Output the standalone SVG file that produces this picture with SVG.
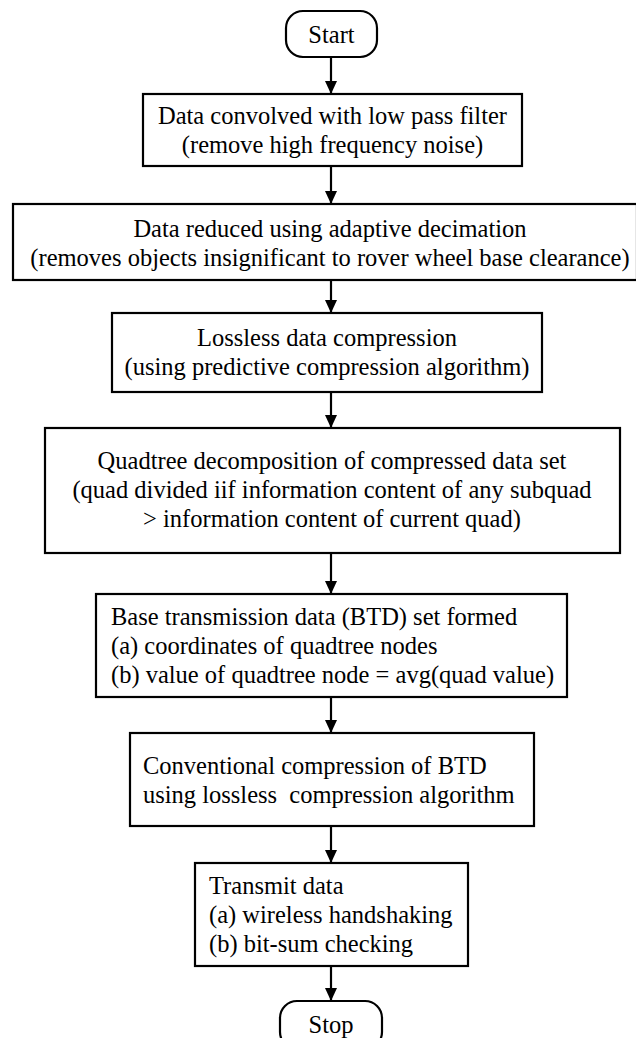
<svg xmlns="http://www.w3.org/2000/svg" width="636" height="1038" viewBox="0 0 636 1038">
  <style>
    .box { fill: #fff; stroke: #000; stroke-width: 2.2; }
    .t { font-family: "Liberation Serif", "Times New Roman", serif; font-size: 24.5px; fill: #000; }
    .c { text-anchor: middle; }
    .edge { stroke: #000; stroke-width: 2.2; fill: none; marker-end: url(#arr); }
  </style>
  <defs>
    <marker id="arr" markerWidth="12" markerHeight="13" refX="6" refY="13" orient="auto-start-reverse" markerUnits="userSpaceOnUse" viewBox="0 0 12 13">
      <path d="M0,0 L12,0 L6,13 Z" fill="#000" transform="rotate(0)"/>
    </marker>
  </defs>
  <rect width="636" height="1038" fill="#fff"/>

  <g id="connectors">
    <line x1="331" y1="57" x2="331" y2="94" stroke="#000" stroke-width="2.2"/>
    <path d="M325,81 L337,81 L331,94 Z" fill="#000"/>
    <line x1="331" y1="166" x2="331" y2="204" stroke="#000" stroke-width="2.2"/>
    <path d="M325,191 L337,191 L331,204 Z" fill="#000"/>
    <line x1="331" y1="280" x2="331" y2="313" stroke="#000" stroke-width="2.2"/>
    <path d="M325,300 L337,300 L331,313 Z" fill="#000"/>
    <line x1="331" y1="392" x2="331" y2="428" stroke="#000" stroke-width="2.2"/>
    <path d="M325,415 L337,415 L331,428 Z" fill="#000"/>
    <line x1="331" y1="553" x2="331" y2="594" stroke="#000" stroke-width="2.2"/>
    <path d="M325,581 L337,581 L331,594 Z" fill="#000"/>
    <line x1="331" y1="697" x2="331" y2="733" stroke="#000" stroke-width="2.2"/>
    <path d="M325,720 L337,720 L331,733 Z" fill="#000"/>
    <line x1="331" y1="826" x2="331" y2="863" stroke="#000" stroke-width="2.2"/>
    <path d="M325,850 L337,850 L331,863 Z" fill="#000"/>
    <line x1="331" y1="966" x2="331" y2="1001" stroke="#000" stroke-width="2.2"/>
    <path d="M325,988 L337,988 L331,1001 Z" fill="#000"/>
  </g>

  <g id="start">
    <rect class="box" x="286" y="11" width="91" height="46" rx="17"/>
    <text class="t c" x="331.5" y="43">Start</text>
  </g>

  <g id="lowpass">
    <rect class="box" x="143" y="94" width="379" height="72"/>
    <text class="t c" x="332.5" y="124">Data convolved with low pass filter</text>
    <text class="t c" x="332.5" y="153">(remove high frequency noise)</text>
  </g>

  <g id="decimation">
    <rect class="box" x="13" y="204" width="624" height="76"/>
    <text class="t c" x="330" y="237">Data reduced using adaptive decimation</text>
    <text class="t c" x="330" y="266">(removes objects insignificant to rover wheel base clearance)</text>
  </g>

  <g id="lossless">
    <rect class="box" x="112" y="313" width="430" height="79"/>
    <text class="t c" x="327" y="346">Lossless data compression</text>
    <text class="t c" x="327" y="375">(using predictive compression algorithm)</text>
  </g>

  <g id="quadtree">
    <rect class="box" x="45" y="428" width="575" height="125"/>
    <text class="t c" x="332" y="469">Quadtree decomposition of compressed data set</text>
    <text class="t c" x="332" y="498">(quad divided iif information content of any subquad</text>
    <text class="t c" x="332" y="527">&gt; information content of current quad)</text>
  </g>

  <g id="btd">
    <rect class="box" x="96" y="594" width="471" height="103"/>
    <text class="t" x="111" y="625">Base transmission data (BTD) set formed</text>
    <text class="t" x="111" y="654">(a) coordinates of quadtree nodes</text>
    <text class="t" x="111" y="683">(b) value of quadtree node = avg(quad value)</text>
  </g>

  <g id="conventional">
    <rect class="box" x="130" y="733" width="404" height="93"/>
    <text class="t" x="143" y="774">Conventional compression of BTD</text>
    <text class="t" x="143" y="803" xml:space="preserve">using lossless  compression algorithm</text>
  </g>

  <g id="transmit">
    <rect class="box" x="195" y="863" width="273" height="103"/>
    <text class="t" x="209" y="894">Transmit data</text>
    <text class="t" x="209" y="923">(a) wireless handshaking</text>
    <text class="t" x="209" y="952">(b) bit-sum checking</text>
  </g>

  <g id="stop">
    <rect class="box" x="280" y="1001" width="102" height="48" rx="17"/>
    <text class="t c" x="331" y="1033">Stop</text>
  </g>
</svg>
